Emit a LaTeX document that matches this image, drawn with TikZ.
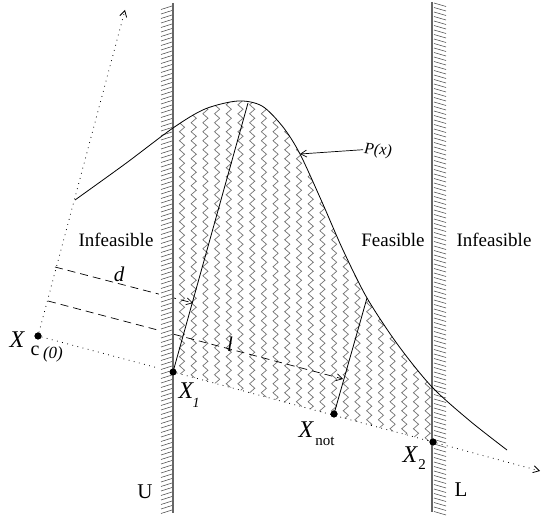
\documentclass[tikz,border=0pt]{standalone}
\usepackage{fontspec}
\setmainfont{Liberation Serif}
\usetikzlibrary{arrows.meta,decorations.pathmorphing}
\begin{document}
\begin{tikzpicture}[x=1pt,y=-1pt,
  wallline/.style={draw=black!60, line width=1.1pt},
  hatchline/.style={draw=black!70, line width=0.55pt},
  zz/.style={draw=black!55, line width=0.7pt, decorate,
     decoration={zigzag, segment length=9pt, amplitude=2.6pt}},
  dotline/.style={line width=0.8pt, dash pattern=on 0.8pt off 4.5pt},
  dashline/.style={line width=0.7pt, dash pattern=on 8pt off 5pt},
  barb/.style={-{Straight Barb[length=6pt,width=7pt]}},
  pt/.style={circle, fill=black, inner sep=0pt, minimum size=7pt},
  big/.style={font=\fontsize{19}{19}\selectfont, inner sep=0pt},
  xlab/.style={font=\fontsize{24}{24}\selectfont\itshape, inner sep=0pt},
  sublab/.style={font=\fontsize{15}{15}\selectfont, inner sep=0pt},
  curve/.style={line width=0.8pt},
  solid line/.style={line width=0.8pt}
]
\useasboundingbox (0,0) rectangle (547,521);

% points
\node[pt] (xc) at (38,336) {};
\node[pt] (x1) at (173,372) {};
\node[pt] (xn) at (334,414) {};
\node[pt] (x2) at (433,442) {};
\coordinate (top) at (125,10);
\coordinate (br) at (540,471);
\coordinate (p1) at (248,103);
\coordinate (p2) at (367,298);
\coordinate (d0) at (55,267);
\coordinate (d1) at (193,303);
\coordinate (l0) at (48,301);
\coordinate (l1) at (343,379);
\coordinate (pxtip) at (300,154);

% zigzag shading of feasible region
\begin{scope}
  \clip (173,0) rectangle (432,521);
  \clip plot[smooth] coordinates {(75,200) (125,164) (173,128) (205,109) (238,101) (262,106) (283,127) (300,154) (322,202) (343,250) (367,298) (398,345) (432,387) (470,421) (507,450)}
     -- (507,462) -- (75,345.6) -- cycle;
  \foreach \x in {0,...,21} {
    \draw[zz] (182+11.7*\x,80) -- (182+11.7*\x,470);
  }
\end{scope}

% dashed lines
\draw[dashline, barb] (d0) -- (d1);
\draw[dashline, barb] (l0) -- (l1);

% dotted lines
\draw[dotline] (xc) -- (x1) -- (x2);
\draw[dotline, barb] (x2) -- (br);
\draw[dotline, barb] (xc) -- (top);

% walls
\fill[white] (159,0) rectangle (172.5,521);
\foreach \y in {6,10.5,...,510} {
  \draw[hatchline] (161,\y+3.5) -- (172,\y);
}
\foreach \y in {3,7.5,...,512} {
  \draw[hatchline] (434,\y) -- (446,\y+3.5);
}
\draw[wallline] (173,3) -- (173,513);
\draw[wallline] (432,2) -- (432,512);

% curve P(x)
\draw[curve] plot[smooth] coordinates {(75,200) (125,164) (173,128) (205,109) (238,101) (262,106) (283,127) (300,154) (322,202) (343,250) (367,298) (398,345) (432,387) (470,421) (507,450)};

% search lines
\draw[solid line] (x1.center) -- (p1);
\draw[solid line] (xn.center) -- (p2);

% redraw dots on top
\node[pt] at (xc) {};
\node[pt] at (x1) {};
\node[pt] at (xn) {};
\node[pt] at (x2) {};

% labels
\node[big] (inf1) at (116,240) {Infeasible};
\node[big] (fea) at (393,240) {Feasible};
\node[big] (inf2) at (494,240) {Infeasible};
\node[big, font=\fontsize{21}{21}\selectfont] (U) at (145,492) {U};
\node[big, font=\fontsize{21}{21}\selectfont] (L) at (461,490) {L};

\node[xlab] (xcX) at (17,340) {X};
\node[font=\fontsize{20}{20}\selectfont, inner sep=0pt] (xcc) at (35,351) {c};
\node[font=\fontsize{17}{17}\selectfont\itshape, inner sep=0pt] (xc0) at (53,354) {(0)};

\node[xlab] (x1X) at (186,391) {X};
\node[sublab, font=\fontsize{14}{14}\selectfont\itshape] (x1s) at (196,403) {1};

\node[xlab] (xnX) at (306,430) {X};
\node[sublab] (xns) at (325,441) {not};

\node[xlab] (x2X) at (410,455) {X};
\node[sublab] (x2s) at (422,465) {2};

\node[font=\fontsize{21}{21}\selectfont\itshape, inner sep=0pt] (dlab) at (119,274) {d};
\node[font=\fontsize{21}{21}\selectfont\itshape, inner sep=0pt] (llab) at (230,344) {l};

\node[font=\fontsize{16}{16}\selectfont\itshape, inner sep=1pt, rotate=-5] (px) at (378,151) {P(x)};
\draw[line width=0.7pt, barb] (px.west) -- (pxtip);
\end{tikzpicture}
\end{document}
